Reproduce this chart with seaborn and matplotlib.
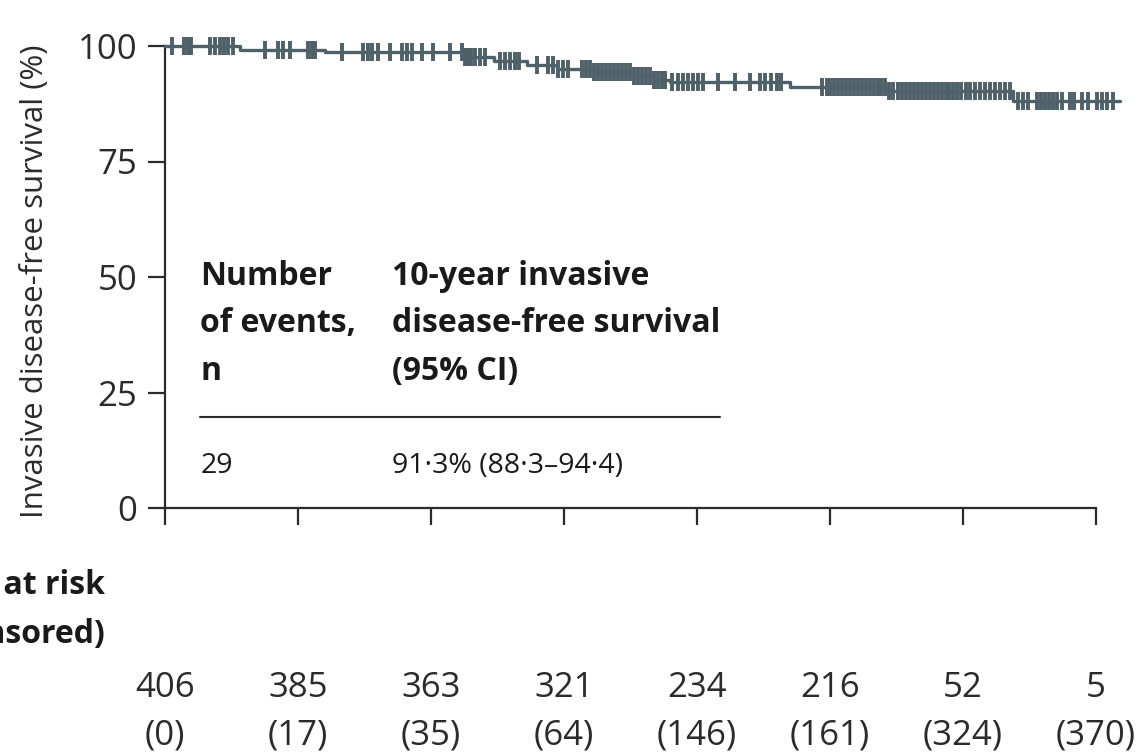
import numpy as np
import pandas as pd
import matplotlib
matplotlib.use("Agg")
import matplotlib.pyplot as plt
import matplotlib.transforms as mtransforms
import seaborn as sns

# ---- data ----
event_times = [0.0, 1.13, 2.40, 4.50, 4.95, 5.45, 5.90, 6.45, 7.05, 7.35, 7.60, 9.40, 10.85, 12.75]
survival = [100.0, 99.2, 98.6, 97.6, 96.8, 95.8, 95.0, 94.4, 93.4, 92.6, 92.3, 91.1, 90.3, 88.0]
end_time = 14.36

censor_times = [
    0.10, 0.28, 0.34, 0.39, 0.68, 0.75, 0.82, 0.89, 0.95, 1.02, 1.50, 1.70, 1.77, 1.88,
    2.15, 2.21, 2.26, 2.66, 2.98, 3.06, 3.11, 3.21, 3.38, 3.56, 3.64, 3.71, 3.86, 4.03,
    4.28, 4.46, 4.51, 4.56, 4.61, 4.66, 4.74, 4.81, 5.04, 5.11, 5.19, 5.26, 5.33, 5.59,
    5.76, 5.84, 5.91, 5.99, 6.06, 6.27, 6.33, 6.39, 6.45, 6.51, 6.57, 6.63, 6.69, 6.75,
    6.81, 6.87, 6.93, 6.99, 7.05, 7.11, 7.17, 7.23, 7.29, 7.35, 7.42, 7.47, 7.52, 7.62,
    7.72, 7.79, 7.87, 7.94, 8.02, 8.09, 8.32, 8.57, 8.80, 8.95, 9.02, 9.12, 9.20, 9.27,
    9.88, 9.95, 10.00, 10.06, 10.12, 10.18, 10.24, 10.30, 10.36, 10.42, 10.48, 10.54,
    10.60, 10.66, 10.72, 10.77, 10.83, 10.89, 10.95, 11.02, 11.08, 11.14, 11.20, 11.26,
    11.32, 11.38, 11.44, 11.50, 11.56, 11.62, 11.68, 11.74, 11.80, 11.86, 11.92, 11.98,
    12.05, 12.11, 12.18, 12.26, 12.33, 12.41, 12.48, 12.56, 12.63, 12.71, 12.83, 12.90,
    12.98, 13.11, 13.17, 13.23, 13.29, 13.35, 13.41, 13.49, 13.61, 13.68, 13.80, 13.88,
    14.02, 14.09, 14.17, 14.26,
]

x_ticks = [0, 2, 4, 6, 8, 10, 12, 14]
y_ticks = [0, 25, 50, 75, 100]
at_risk = [406, 385, 363, 321, 234, 216, 52, 5]
censored = [0, 17, 35, 64, 146, 161, 324, 370]

n_events = "29"
ten_year = "91·3% (88·3–94·4)"

# ---- derived tables ----
curve = pd.DataFrame({"time": event_times + [end_time],
                      "surv": survival + [survival[-1]]})
idx = np.searchsorted(np.array(event_times), np.array(censor_times), side="right") - 1
marks = pd.DataFrame({"time": censor_times, "surv": np.array(survival)[idx]})

# ---- style ----
sns.set_theme(style="white")
plt.rcParams["font.family"] = ["Open Sans", "DejaVu Sans"]
dark = "#2b2b2b"
txt = "#1a1a1a"
curve_col = "#4e6068"

fig = plt.figure(figsize=(11.45, 7.53), dpi=100)
W, H = 1145, 753
ax = fig.add_axes([165 / W, 1 - 508 / H, (1129 - 165) / W, (508 - 46) / H])

sns.lineplot(data=curve, x="time", y="surv", ax=ax, color=curve_col, lw=2.4,
             drawstyle="steps-post", clip_on=False, zorder=3)
sns.scatterplot(data=marks, x="time", y="surv", ax=ax, marker="|", s=150,
                color=curve_col, linewidth=2.8, clip_on=False, zorder=4)

ax.set_xlim(0, 14.5)
ax.set_ylim(0, 100)
ax.set_xticks(x_ticks)
ax.set_xticklabels([])
ax.set_yticks(y_ticks)
ax.set_yticklabels([str(v) for v in y_ticks], fontsize=25, color=dark)
ax.set_xlabel("")
ax.set_ylabel("Invasive disease-free survival (%)", fontsize=22.5, color=dark)
ax.yaxis.set_label_coords((50 - 165) / 964, 0.49)

for s in ["top", "right"]:
    ax.spines[s].set_visible(False)
for s in ["left", "bottom"]:
    ax.spines[s].set_color(dark)
    ax.spines[s].set_linewidth(1.6)
ax.spines["bottom"].set_bounds(0, 14)
ax.tick_params(axis="both", direction="out", length=12, width=1.6, color=dark,
               left=True, bottom=True)
ax.tick_params(axis="y", pad=8)

# ---- inset table ----
tb = dict(fontsize=23, fontweight="bold", color=txt, va="baseline", ha="left")
left_col = ["Number", "of events,", "n"]
right_col = ["10-year invasive", "disease-free survival", "(95% CI)"]
for i, (l, r) in enumerate(zip(left_col, right_col)):
    yb = 48.3 - i * 10.3
    ax.text(0.53, yb, l, **tb)
    ax.text(3.41, yb, r, **tb)
ax.plot([0.53, 8.35], [19.7, 19.7], color=dark, lw=1.5)
ax.text(0.53, 7.6, n_events, fontsize=20.5, color=txt, va="baseline", ha="left")
ax.text(3.41, 7.6, ten_year, fontsize=20.5, color=txt, va="baseline", ha="left")

# ---- number at risk ----
fig.text(105 / W, 1 - 585 / H, "Number at risk", fontsize=23, fontweight="bold",
         ha="right", va="center", color=txt)
fig.text(105 / W, 1 - 635 / H, "(number censored)", fontsize=23, fontweight="bold",
         ha="right", va="center", color=txt)
trans = mtransforms.blended_transform_factory(ax.transData, fig.transFigure)
for xt, n, c in zip(x_ticks, at_risk, censored):
    ax.text(xt, 1 - 688 / H, str(n), transform=trans, ha="center", va="center",
            fontsize=25, color=dark, clip_on=False)
    ax.text(xt, 1 - 735 / H, f"({c})", transform=trans, ha="center", va="center",
            fontsize=25, color=dark, clip_on=False)

fig.savefig("out.png", dpi=100)
